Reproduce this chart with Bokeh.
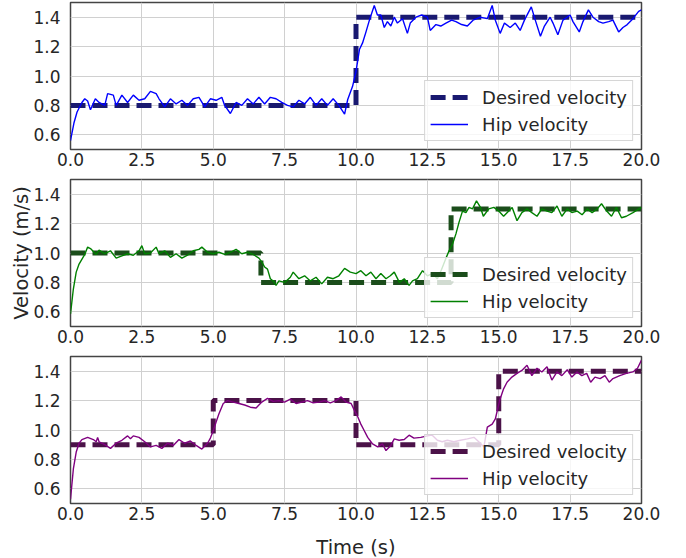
from bokeh.plotting import figure
from bokeh.models import Range1d, FixedTicker, PrintfTickFormatter
from bokeh.layouts import column
from bokeh.embed import file_html
from bokeh.resources import INLINE

# ---------------- data ----------------
x_ticks = [0, 2.5, 5, 7.5, 10, 12.5, 15, 17.5, 20]
y_ticks = [0.6, 0.8, 1.0, 1.2, 1.4]

# Panel 1
des1_t = [0, 10, 20]
des1_v = [0.8, 1.4, 1.4]
hip1_t = [0.0, 0.12, 0.23, 0.4, 0.5, 0.6, 0.7, 0.87, 1.0, 1.2, 1.3, 1.5, 1.6, 1.8, 2.0, 2.2, 2.4, 2.6,
          2.8, 3.0, 3.1, 3.3, 3.5, 3.7, 3.9, 4.1, 4.3, 4.5, 4.7, 4.9, 5.1, 5.3, 5.4, 5.6, 5.8, 6.0,
          6.2, 6.4, 6.6, 6.8, 7.0, 7.2, 7.4, 7.6, 7.8, 8.0, 8.2, 8.4, 8.6, 8.8, 9.0, 9.2, 9.4, 9.6,
          9.71, 9.88, 10.0, 10.12, 10.23, 10.35, 10.47, 10.64, 10.75, 10.87, 10.99, 11.1, 11.22,
          11.34, 11.45, 11.63, 11.8, 11.9, 12.1, 12.3, 12.5, 12.6, 12.8, 12.97, 13.15, 13.35, 13.5,
          13.7, 13.9, 14.1, 14.35, 14.6, 14.77, 14.88, 15.05, 15.2, 15.4, 15.58, 15.75, 15.9, 16.14,
          16.28, 16.46, 16.6, 16.8, 16.9, 17.07, 17.25, 17.5, 17.6, 17.82, 17.95, 18.14, 18.3, 18.5,
          18.65, 18.85, 19.0, 19.2, 19.35, 19.5, 19.7, 19.9, 20.0]
hip1_v = [0.56, 0.68, 0.755, 0.82, 0.845, 0.83, 0.77, 0.845, 0.82, 0.80, 0.88, 0.87, 0.80, 0.87, 0.82,
          0.87, 0.835, 0.845, 0.895, 0.88, 0.845, 0.79, 0.845, 0.81, 0.835, 0.80, 0.845, 0.855, 0.79,
          0.845, 0.835, 0.855, 0.80, 0.745, 0.82, 0.80, 0.845, 0.81, 0.855, 0.81, 0.855, 0.845, 0.82,
          0.80, 0.79, 0.835, 0.81, 0.855, 0.80, 0.845, 0.80, 0.845, 0.80, 0.74, 0.84, 0.93, 1.03,
          1.18, 1.225, 1.30, 1.38, 1.48, 1.415, 1.415, 1.33, 1.37, 1.34, 1.40, 1.36, 1.39, 1.29,
          1.36, 1.40, 1.415, 1.40, 1.31, 1.35, 1.34, 1.36, 1.38, 1.37, 1.35, 1.34, 1.38, 1.40, 1.39,
          1.48, 1.38, 1.29, 1.36, 1.33, 1.36, 1.31, 1.38, 1.47, 1.38, 1.27, 1.34, 1.40, 1.36, 1.28,
          1.38, 1.415, 1.37, 1.30, 1.37, 1.45, 1.40, 1.37, 1.36, 1.37, 1.38, 1.30, 1.33, 1.35, 1.39,
          1.44, 1.45]

# Panel 2
des2_t = [0, 6.67, 13.33, 20]
des2_v = [1.0, 0.8, 1.3, 1.3]
hip2_t = [0.0, 0.1, 0.2, 0.3, 0.5, 0.6, 0.7, 0.9, 1.0, 1.2, 1.4, 1.6, 1.8, 2.0, 2.2, 2.4, 2.5, 2.6,
          2.8, 3.0, 3.1, 3.3, 3.5, 3.7, 3.9, 4.1, 4.3, 4.5, 4.6, 4.8, 5.0, 5.2, 5.4, 5.6, 5.8, 6.0,
          6.2, 6.4, 6.6, 6.7, 6.8, 6.9, 7.0, 7.1, 7.2, 7.3, 7.5, 7.7, 7.8, 8.0, 8.2, 8.4, 8.6, 8.8,
          9.0, 9.2, 9.4, 9.6, 9.8, 10.0, 10.17, 10.35, 10.52, 10.7, 10.87, 11.05, 11.2, 11.34,
          11.52, 11.69, 11.86, 11.98, 12.15, 12.33, 12.5, 12.67, 12.85, 13.0, 13.14, 13.26, 13.38,
          13.5, 13.61, 13.73, 13.85, 13.96, 14.08, 14.22, 14.36, 14.46, 14.65, 14.83, 15.0, 15.17,
          15.35, 15.47, 15.64, 15.81, 15.99, 16.16, 16.34, 16.51, 16.69, 16.86, 17.04, 17.21, 17.4,
          17.56, 17.75, 17.92, 18.1, 18.27, 18.45, 18.6, 18.78, 18.95, 19.12, 19.3, 19.47, 19.7, 20.0]
hip2_v = [0.585, 0.755, 0.87, 0.925, 0.99, 1.04, 1.03, 0.99, 1.02, 0.995, 1.015, 0.965, 0.98, 0.995,
          0.985, 1.015, 1.05, 0.995, 1.0, 1.04, 0.995, 1.015, 0.97, 0.995, 0.965, 0.985, 1.015,
          1.025, 1.04, 1.005, 0.995, 1.005, 0.99, 1.005, 1.025, 0.995, 1.005, 0.99, 0.965, 0.94,
          0.905, 0.89, 0.825, 0.81, 0.78, 0.81, 0.80, 0.835, 0.87, 0.825, 0.845, 0.81, 0.835, 0.79,
          0.835, 0.825, 0.845, 0.895, 0.87, 0.86, 0.88, 0.845, 0.87, 0.825, 0.86, 0.825, 0.845,
          0.87, 0.80, 0.825, 0.78, 0.81, 0.825, 0.88, 0.845, 0.86, 0.825, 0.89, 0.96, 1.015, 1.06,
          1.13, 1.21, 1.285, 1.275, 1.31, 1.30, 1.355, 1.31, 1.25, 1.30, 1.31, 1.285, 1.25, 1.285,
          1.31, 1.22, 1.275, 1.30, 1.275, 1.25, 1.30, 1.285, 1.275, 1.32, 1.25, 1.30, 1.275, 1.285,
          1.26, 1.30, 1.275, 1.30, 1.335, 1.285, 1.25, 1.31, 1.24, 1.25, 1.275, 1.31]

# Panel 3
des3_t = [0, 5, 10, 15, 20]
des3_v = [0.9, 1.2, 0.9, 1.4, 1.4]
hip3_t = [0.0, 0.1, 0.2, 0.3, 0.4, 0.6, 0.8, 0.9, 0.95, 1.0, 1.2, 1.4, 1.6, 1.8, 2.0, 2.1, 2.2, 2.4,
          2.6, 2.8, 3.0, 3.2, 3.4, 3.6, 3.8, 4.0, 4.2, 4.4, 4.6, 4.8, 4.9, 5.0, 5.1, 5.2, 5.35, 5.5,
          5.7, 5.9, 6.1, 6.3, 6.5, 6.7, 6.9, 7.1, 7.3, 7.5, 7.7, 7.9, 8.1, 8.3, 8.5, 8.7, 8.9, 9.1,
          9.3, 9.48, 9.65, 9.83, 9.94, 10.06, 10.17, 10.29, 10.41, 10.58, 10.76, 10.93, 11.05,
          11.22, 11.34, 11.51, 11.69, 11.86, 12.03, 12.27, 12.5, 12.67, 12.85, 13.02, 13.2, 13.43,
          13.66, 13.9, 14.13, 14.3, 14.48, 14.6, 14.77, 14.88, 15.03, 15.17, 15.29, 15.46, 15.64,
          15.81, 15.99, 16.16, 16.34, 16.51, 16.69, 16.86, 17.04, 17.21, 17.4, 17.56, 17.74, 17.91,
          18.08, 18.22, 18.37, 18.55, 18.72, 18.87, 19.0, 19.24, 19.47, 19.7, 19.86, 20.0]
hip3_v = [0.53, 0.735, 0.85, 0.91, 0.935, 0.95, 0.935, 0.92, 0.95, 0.92, 0.90, 0.875, 0.91, 0.93,
          0.96, 0.94, 0.96, 0.95, 0.92, 0.885, 0.895, 0.875, 0.91, 0.895, 0.935, 0.91, 0.925, 0.895,
          0.87, 0.91, 0.945, 0.995, 1.055, 1.11, 1.18, 1.20, 1.19, 1.18, 1.17, 1.155, 1.15, 1.19,
          1.215, 1.195, 1.20, 1.19, 1.21, 1.18, 1.19, 1.20, 1.185, 1.19, 1.20, 1.185, 1.20, 1.225,
          1.19, 1.18, 1.135, 1.09, 1.04, 0.995, 0.95, 0.905, 0.885, 0.905, 0.86, 0.895, 0.94, 0.93,
          0.935, 0.965, 0.945, 0.95, 0.96, 0.965, 0.93, 0.92, 0.93, 0.92, 0.93, 0.94, 0.95, 0.92,
          0.885, 1.02, 1.04, 1.075, 1.20, 1.28, 1.325, 1.36, 1.385, 1.405, 1.44, 1.37, 1.42, 1.395,
          1.43, 1.34, 1.395, 1.37, 1.41, 1.36, 1.395, 1.37, 1.385, 1.325, 1.36, 1.35, 1.37, 1.325,
          1.35, 1.37, 1.385, 1.395, 1.42, 1.475]

panels = [
    (des1_t, des1_v, hip1_t, hip1_v, "#191970", "#0000ff"),
    (des2_t, des2_v, hip2_t, hip2_v, "#1b4d1b", "#008000"),
    (des3_t, des3_v, hip3_t, hip3_v, "#4b1248", "#800080"),
]

TEXT = "#262626"
FONT = "DejaVu Sans"
FRAME_W = 571
FRAME_H = 147

figs = []
for i, (dt, dv, ht, hv, dcol, hcol) in enumerate(panels):
    last = (i == 2)
    bottom = 58 if last else 28
    p = figure(frame_width=FRAME_W, frame_height=FRAME_H,
               x_range=Range1d(0, 20), y_range=Range1d(0.5, 1.5),
               output_backend="svg", toolbar_location=None,
               min_border_left=70, min_border_right=26,
               min_border_top=2, min_border_bottom=bottom)
    p.step(dt, dv, mode="after", line_color=dcol, line_width=5,
           line_dash="15 7", legend_label="Desired velocity")
    p.line(ht, hv, line_color=hcol, line_width=1.4, legend_label="Hip velocity")

    p.background_fill_color = "white"
    p.outline_line_color = "#444444"
    p.outline_line_width = 1.5

    for ax in (p.xaxis, p.yaxis):
        ax.axis_line_color = None
        ax.major_tick_line_color = None
        ax.minor_tick_line_color = None
        ax.major_tick_out = 0
        ax.major_tick_in = 0
        ax.minor_tick_out = 0
        ax.minor_tick_in = 0
        ax.major_label_text_font = FONT
        ax.major_label_text_font_size = "17px"
        ax.major_label_text_color = TEXT
        ax.axis_label_text_font = FONT
        ax.axis_label_text_font_size = "19.5px"
        ax.axis_label_text_font_style = "normal"
        ax.axis_label_text_color = TEXT
    p.xaxis.ticker = FixedTicker(ticks=x_ticks)
    p.yaxis.ticker = FixedTicker(ticks=y_ticks)
    p.xaxis.formatter = PrintfTickFormatter(format="%.1f")
    p.yaxis.formatter = PrintfTickFormatter(format="%.1f")
    p.xaxis.major_label_standoff = 3
    p.yaxis.major_label_standoff = 10
    if i == 1:
        p.yaxis.axis_label = "Velocity (m/s)"
        p.yaxis.axis_label_standoff = -3
    if last:
        p.xaxis.axis_label = "Time (s)"
        p.xaxis.axis_label_standoff = 13

    p.grid.grid_line_color = "#d0d0d0"
    p.grid.grid_line_width = 1

    lg = p.legend[0]
    lg.location = "bottom_right"
    lg.margin = 8
    lg.padding = 5
    lg.spacing = 5
    lg.label_height = 22
    lg.glyph_height = 22
    lg.glyph_width = 38
    lg.label_standoff = 14
    lg.label_text_font = FONT
    lg.label_text_font_size = "18px"
    lg.label_text_color = TEXT
    lg.background_fill_color = "white"
    lg.background_fill_alpha = 0.8
    lg.border_line_color = "#cccccc"
    lg.border_line_alpha = 0.8
    lg.border_line_width = 1
    figs.append(p)

layout = column(*figs)
open("out.html", "w").write(file_html(layout, INLINE))
